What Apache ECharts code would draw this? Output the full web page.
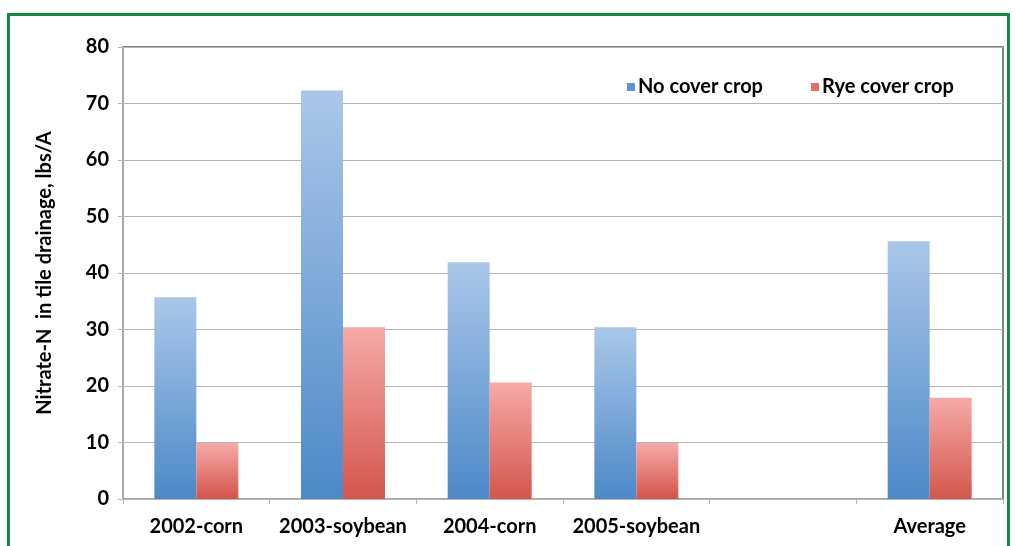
<!DOCTYPE html>
<html>
<head>
<meta charset="utf-8">
<script src="https://cdn.jsdelivr.net/npm/echarts@6/dist/echarts.min.js"></script>
<style>
  html, body { margin: 0; padding: 0; background: #fff; }
  #frame {
    position: absolute; left: 7px; top: 13px; width: 1003px; height: 560px;
    border: 3px solid #138a3f; box-sizing: border-box;
  }
  #chart { position: absolute; left: 0; top: 0; width: 1016px; height: 546px; }
</style>
</head>
<body>
<div id="frame"></div>
<div id="chart"></div>
<script>
// categories (5th slot is an empty gap before the average)
const categories = ['2002-corn', '2003-soybean', '2004-corn', '2005-soybean', '', 'Average'];
const noCover = [35.7, 72.3, 41.9, 30.4, null, 45.6];
const ryeCover = [9.9, 30.4, 20.6, 9.9, null, 17.9];
const yTicks = { min: 0, max: 80, interval: 10 };

const font = 'Lato, "Open Sans", sans-serif';

// 纵向渐变
const grad = (top, bottom) => new echarts.graphic.LinearGradient(0, 0, 0, 1, [
    { offset: 0, color: top },
    { offset: 1, color: bottom }
]);

const myChart = echarts.init(document.getElementById('chart'), null, { renderer: 'canvas' });

const option = {
    backgroundColor: 'transparent',
    animation: false,
    grid: {
        left: 123, right: 13, top: 47, bottom: 47,
        show: true, borderColor: '#5a5a5a', borderWidth: 1.5, backgroundColor: 'transparent'
    },
    legend: {
        left: 622, top: 72,
        itemWidth: 8, itemHeight: 8, itemGap: 48,
        icon: 'rect',
        textStyle: { fontFamily: font, fontWeight: 'bold', fontSize: 20, color: '#000', padding: [0, 0, 0, -2] },
        data: [
            { name: 'No cover crop', itemStyle: { color: '#5b95d2' } },
            { name: 'Rye cover crop', itemStyle: { color: '#e2706a' } }
        ]
    },
    xAxis: {
        type: 'category',
        data: categories,
        axisLine: { lineStyle: { color: '#b5b5b5', width: 1.5 } },
        axisTick: { show: true, length: 5, lineStyle: { color: '#b5b5b5' } },
        axisLabel: { interval: 0, fontFamily: font, fontWeight: 'bold', fontSize: 20, color: '#000', margin: 18 }
    },
    yAxis: {
        type: 'value',
        min: yTicks.min, max: yTicks.max, interval: yTicks.interval,
        name: 'Nitrate-N  in tile drainage, lbs/A',
        nameLocation: 'middle',
        nameGap: 68,
        nameTextStyle: { fontFamily: font, fontWeight: 'bold', fontSize: 20, color: '#000' },
        axisLine: { show: true, lineStyle: { color: '#b5b5b5', width: 1.5 } },
        axisTick: { show: true, length: 5, lineStyle: { color: '#b5b5b5' } },
        axisLabel: { fontFamily: font, fontWeight: 'bold', fontSize: 20, color: '#000', margin: 14 },
        splitLine: { lineStyle: { color: '#b5b5b5', width: 1.2 } }
    },
    series: [
        {
            name: 'No cover crop',
            type: 'bar',
            data: noCover,
            barWidth: 42,
            barGap: '0%',
            itemStyle: { color: grad('#aac7e9', '#4c89c8') }
        },
        {
            name: 'Rye cover crop',
            type: 'bar',
            data: ryeCover,
            barWidth: 42,
            itemStyle: { color: grad('#f6aaa7', '#d3564b') }
        }
    ]
};

myChart.setOption(option);
</script>
</body>
</html>
